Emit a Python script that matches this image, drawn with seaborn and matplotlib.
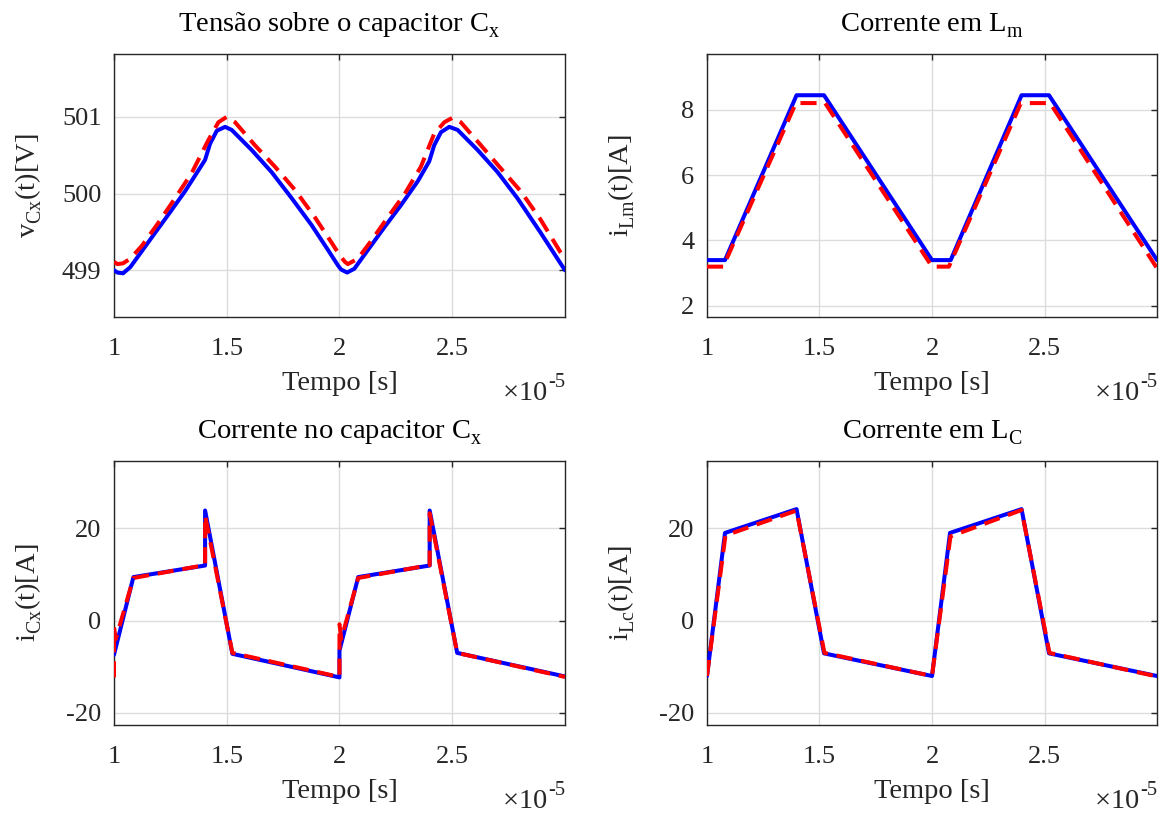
import matplotlib
matplotlib.use("Agg")
import matplotlib.pyplot as plt
import seaborn as sns
from matplotlib.ticker import FixedLocator, FuncFormatter

# ---------------------------------------------------------------------------
# Dados (tempo em unidades de 1e-5 s)
# ---------------------------------------------------------------------------
ESCALA_T = 1e-5

# Tensão sobre o capacitor Cx
t_vcx_sim = [1.000, 1.015, 1.040, 1.072, 1.109, 1.168, 1.242, 1.315, 1.389, 1.404,
             1.426, 1.456, 1.493, 1.522, 1.610, 1.699, 1.788, 1.876, 1.950, 1.994,
             2.007, 2.034, 2.066, 2.125, 2.199, 2.273, 2.347, 2.398, 2.420, 2.450,
             2.487, 2.524, 2.612, 2.701, 2.789, 2.892, 3.000]
v_cx_sim = [499.00, 498.97, 498.96, 499.04, 499.19, 499.43, 499.73, 500.03, 500.37, 500.44,
            500.65, 500.82, 500.87, 500.83, 500.57, 500.28, 499.94, 499.59, 499.26, 499.06,
            499.01, 498.97, 499.02, 499.26, 499.56, 499.85, 500.16, 500.42, 500.63, 500.80,
            500.87, 500.83, 500.57, 500.28, 499.94, 499.49, 499.00]
t_vcx_teo = [1.000, 1.015, 1.040, 1.072, 1.124, 1.197, 1.271, 1.345, 1.419, 1.463,
             1.500, 1.537, 1.625, 1.714, 1.802, 1.891, 1.965, 2.000, 2.024, 2.037,
             2.081, 2.140, 2.214, 2.288, 2.361, 2.420, 2.465, 2.502, 2.538, 2.627,
             2.715, 2.804, 2.892, 2.981, 3.000]
v_cx_teo = [499.11, 499.08, 499.09, 499.15, 499.32, 499.62, 499.94, 500.27, 500.70, 500.93,
            501.00, 500.93, 500.63, 500.35, 500.05, 499.69, 499.36, 499.20, 499.11, 499.08,
            499.15, 499.38, 499.69, 499.99, 500.35, 500.78, 500.93, 500.99, 500.93, 500.63,
            500.33, 500.03, 499.66, 499.23, 499.15]

# Corrente em Lm
t_ilm_sim = [1.000, 1.080, 1.398, 1.520, 2.000, 2.083, 2.398, 2.520, 3.000]
i_lm_sim = [3.40, 3.40, 8.44, 8.44, 3.40, 3.40, 8.44, 8.44, 3.40]
t_ilm_teo = [1.000, 1.072, 1.395, 1.525, 2.000, 2.075, 2.395, 2.525, 3.000]
i_lm_teo = [3.20, 3.20, 8.20, 8.20, 3.20, 3.20, 8.20, 8.20, 3.15]

# Corrente no capacitor Cx
t_icx_sim = [1.000, 1.086, 1.404, 1.404, 1.525, 2.000, 2.000, 2.083, 2.400, 2.400, 2.522, 3.000]
i_cx_sim = [-7.4, 9.4, 11.9, 23.8, -7.2, -12.3, -6.5, 9.4, 11.9, 23.8, -7.0, -12.1]
t_icx_teo = [1.000, 1.000, 1.008, 1.086, 1.404, 1.404, 1.525, 2.000, 2.000, 2.008, 2.083,
             2.400, 2.400, 2.522, 3.000]
i_cx_teo = [-12.3, -1.5, -4.0, 9.2, 12.0, 22.7, -7.0, -12.2, -0.8, -4.0, 9.2,
            12.0, 23.2, -7.0, -12.2]

# Corrente em Lc
t_ilc_sim = [1.000, 1.080, 1.398, 1.520, 2.000, 2.080, 2.398, 2.520, 3.000]
i_lc_sim = [-12.0, 18.95, 24.1, -7.1, -12.0, 18.95, 24.1, -7.1, -12.0]
t_ilc_teo = [1.000, 1.082, 1.398, 1.522, 2.000, 2.082, 2.398, 2.522, 3.000]
i_lc_teo = [-12.0, 18.4, 23.8, -7.0, -12.0, 18.2, 23.9, -7.0, -12.1]

titulos = [r"Tensão sobre o capacitor C$_\mathrm{x}^{}$", r"Corrente em L$_\mathrm{m}^{}$",
           r"Corrente no capacitor C$_\mathrm{x}^{}$", r"Corrente em L$_\mathrm{C}^{}$"]
rotulos_y = [r"v$_\mathrm{Cx}^{}$(t)[V]", r"i$_\mathrm{Lm}^{}$(t)[A]",
             r"i$_\mathrm{Cx}^{}$(t)[A]", r"i$_\mathrm{Lc}^{}$(t)[A]"]
ticks_x = [1.0, 1.5, 2.0, 2.5]
ticks_y = [[499, 500, 501], [2, 4, 6, 8], [-20, 0, 20], [-20, 0, 20]]
limites_y = [(498.39, 501.82), (1.66, 9.70), (-22.6, 34.5), (-22.6, 34.5)]

# ---------------------------------------------------------------------------
# Estilo
# ---------------------------------------------------------------------------
sns.set_theme(style="white")
plt.rcParams.update({
    "font.family": ["Liberation Serif", "DejaVu Serif"],
    "mathtext.fontset": "custom",
    "mathtext.rm": "Liberation Serif",
    "mathtext.it": "Liberation Serif:italic",
    "mathtext.bf": "Liberation Serif:bold",
    "axes.unicode_minus": False,
    "axes.edgecolor": "#262626",
    "axes.linewidth": 1.0,
    "xtick.direction": "in",
    "ytick.direction": "in",
})

COR_SIM = "#0000ff"
COR_TEO = "#ff0000"
TAM_TICK = 19
TAM_ROTULO = 20.5

fig = plt.figure(figsize=(11.68, 8.16), dpi=100)
posicoes = [
    [0.0976, 0.6115, 0.3861, 0.3223],
    [0.6053, 0.6115, 0.3853, 0.3223],
    [0.0976, 0.1115, 0.3861, 0.3235],
    [0.6053, 0.1115, 0.3853, 0.3235],
]
series = [
    (t_vcx_sim, v_cx_sim, t_vcx_teo, v_cx_teo),
    (t_ilm_sim, i_lm_sim, t_ilm_teo, i_lm_teo),
    (t_icx_sim, i_cx_sim, t_icx_teo, i_cx_teo),
    (t_ilc_sim, i_lc_sim, t_ilc_teo, i_lc_teo),
]

for k, (pos, (ts, ys, tt, yt)) in enumerate(zip(posicoes, series)):
    ax = fig.add_axes(pos)
    sns.lineplot(x=[v * ESCALA_T for v in ts], y=ys, ax=ax, sort=False,
                 estimator=None, color=COR_SIM, lw=2.9, zorder=3)
    sns.lineplot(x=[v * ESCALA_T for v in tt], y=yt, ax=ax, sort=False,
                 estimator=None, color=COR_TEO, lw=2.9, zorder=4)
    ax.lines[-1].set_dashes([4.0, 2.2])

    ax.set_xlim(1.0 * ESCALA_T, 3.0 * ESCALA_T)
    ax.set_ylim(*limites_y[k])
    ax.xaxis.set_major_locator(FixedLocator([v * ESCALA_T for v in ticks_x]))
    ax.xaxis.set_major_formatter(FuncFormatter(lambda x, _: f"{x / ESCALA_T:g}"))
    ax.yaxis.set_major_locator(FixedLocator(ticks_y[k]))
    ax.yaxis.set_major_formatter(FuncFormatter(lambda y, _: f"{y:g}"))

    ax.grid(True, color="#dcdcdc", lw=1.0)
    ax.set_axisbelow(True)
    ax.tick_params(axis="both", which="major", length=4.5, width=1.0,
                   color="#262626", labelcolor="#262626",
                   top=True, right=True, labelsize=TAM_TICK)
    ax.tick_params(axis="x", pad=15)
    ax.tick_params(axis="y", pad=9)
    for lado in ax.spines.values():
        lado.set_visible(True)
        lado.set_color("#262626")

    ax.set_title(titulos[k], fontsize=TAM_ROTULO, pad=16, color="#000000")
    ax.set_xlabel("Tempo [s]", fontsize=TAM_ROTULO, labelpad=8, color="#262626")
    ax.set_ylabel(rotulos_y[k], fontsize=TAM_ROTULO, color="#262626")
    ax.yaxis.set_label_coords(-0.155, 0.5)
    ax.text(0.962, -0.315, r"$\times$10", transform=ax.transAxes,
            ha="right", va="baseline", fontsize=TAM_ROTULO, color="#262626")
    ax.text(0.962, -0.265, "-5", transform=ax.transAxes,
            ha="left", va="baseline", fontsize=TAM_ROTULO * 0.72, color="#262626")

fig.savefig("out.png", dpi=100)
